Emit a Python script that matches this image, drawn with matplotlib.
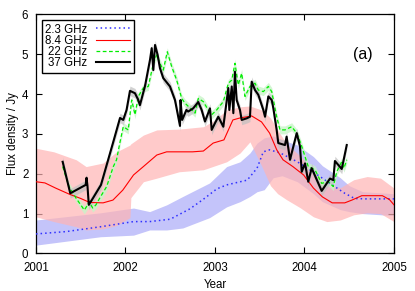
import matplotlib
matplotlib.use("Agg")
import matplotlib.pyplot as plt
import numpy as np

plt.rcParams['font.family'] = ['Liberation Sans', 'DejaVu Sans']

# ---- data -------------------------------------------------------------
# 2.3 GHz
t23 = [2001.00, 2001.34, 2001.72, 2002.09, 2002.27, 2002.50, 2002.72, 2002.87, 2003.02, 2003.13,
       2003.36, 2003.47, 2003.54, 2003.61, 2003.73, 2003.92, 2004.12, 2004.31, 2004.45, 2004.56,
       2004.68, 2005.00]
f23 = [0.49, 0.55, 0.67, 0.80, 0.80, 0.86, 1.12, 1.36, 1.62, 1.72,
       1.84, 2.14, 2.55, 2.60, 2.52, 2.30, 2.01, 1.72, 1.51, 1.38,
       1.37, 1.37]
tb23 = [2001.00, 2001.72, 2002.09, 2002.27, 2002.46, 2002.64, 2002.94, 2003.13, 2003.28, 2003.39,
        2003.47, 2003.55, 2003.65, 2003.75, 2003.92, 2004.10, 2004.20, 2004.40, 2004.50, 2004.65, 2005.00]
lo23 = [0.21, 0.42, 0.46, 0.59, 0.59, 0.64, 0.90, 1.17, 1.30, 1.43,
        1.55, 1.60, 1.90, 1.95, 1.80, 1.50, 1.30, 1.10, 1.05, 1.00, 0.95]
hi23 = [0.84, 1.02, 1.14, 1.05, 1.22, 1.43, 1.77, 2.18, 2.30, 2.52,
        2.77, 2.90, 2.95, 2.85, 2.72, 2.43, 2.20, 1.90, 1.70, 1.55, 1.50]

# 8.4 GHz
t84 = [2001.00, 2001.10, 2001.22, 2001.37, 2001.50, 2001.60, 2001.75, 2001.86, 2001.97, 2002.09,
       2002.20, 2002.35, 2002.46, 2002.60, 2002.75, 2002.87, 2002.98, 2003.10, 2003.14, 2003.20,
       2003.28, 2003.41, 2003.52, 2003.61, 2003.69, 2003.76, 2003.87, 2003.99, 2004.10, 2004.20,
       2004.31, 2004.45, 2004.53, 2004.64, 2004.87, 2004.95, 2005.00]
f84 = [1.80, 1.77, 1.64, 1.49, 1.38, 1.28, 1.27, 1.34, 1.59, 1.97,
       2.18, 2.47, 2.55, 2.55, 2.55, 2.57, 2.77, 2.85, 3.05, 3.35,
       3.40, 3.45, 3.30, 3.02, 2.60, 2.35, 2.18, 1.97, 1.64, 1.42,
       1.27, 1.27, 1.34, 1.45, 1.45, 1.35, 1.22]
tb84 = [2001.00, 2001.20, 2001.45, 2001.56, 2001.75, 2001.90, 2002.05, 2002.06, 2002.20, 2002.35,
        2002.60, 2002.87, 2003.00, 2003.13, 2003.28, 2003.39, 2003.52, 2003.62, 2003.70, 2003.80,
        2003.95, 2004.10, 2004.25, 2004.40, 2004.55, 2004.70, 2004.85, 2005.00]
hi84 = [2.64, 2.55, 2.35, 2.18, 2.27, 2.55, 2.72, 2.75, 2.97, 3.10,
        3.12, 3.18, 3.35, 3.60, 3.68, 3.70, 3.60, 3.40, 3.10, 2.75,
        2.45, 2.10, 1.75, 1.65, 1.85, 1.93, 1.89, 1.64]
lo84 = [0.92, 0.80, 0.67, 0.59, 0.62, 0.70, 0.90, 1.40, 1.80, 1.89,
        2.05, 2.10, 2.20, 2.30, 2.52, 2.80, 2.20, 1.70, 1.50, 1.35,
        1.15, 0.92, 0.80, 0.84, 0.97, 1.02, 1.00, 0.80]

# 22 GHz
t22 = [2001.298, 2001.369, 2001.447, 2001.540, 2001.578, 2001.592, 2001.634, 2001.670, 2001.715, 2001.790,
       2001.864, 2001.900, 2001.939, 2001.975, 2002.031, 2002.069, 2002.106, 2002.143, 2002.199, 2002.255,
       2002.311, 2002.349, 2002.385, 2002.422, 2002.467, 2002.516, 2002.572, 2002.628, 2002.665, 2002.721,
       2002.777, 2002.813, 2002.869, 2002.925, 2002.963, 2003.019, 2003.093, 2003.149, 2003.187, 2003.223,
       2003.260, 2003.298, 2003.335, 2003.391, 2003.447, 2003.484, 2003.540, 2003.596, 2003.634, 2003.689,
       2003.726, 2003.782, 2003.857, 2003.913, 2003.960, 2004.042, 2004.117, 2004.192, 2004.266, 2004.322,
       2004.360, 2004.416, 2004.441, 2004.472]
f22 = [2.18, 1.68, 1.39, 1.09, 1.22, 1.30, 1.14, 1.22, 1.40, 1.68,
       2.18, 2.35, 2.80, 3.18, 3.10, 3.85, 3.48, 3.94, 4.15, 4.19,
       4.77, 4.98, 4.77, 4.60, 5.06, 4.69, 4.35, 3.89, 3.77, 3.65,
       3.52, 3.89, 3.81, 3.60, 3.48, 3.60, 3.81, 4.27, 4.35, 4.77,
       4.23, 4.52, 3.94, 4.19, 4.27, 4.10, 4.06, 4.19, 4.06, 3.43,
       3.10, 3.10, 3.18, 3.02, 2.75, 2.18, 2.10, 1.76, 1.80, 1.68,
       2.05, 2.30, 2.14, 2.35]

# 37 GHz
t37 = [2001.298, 2001.383, 2001.555, 2001.565, 2001.575, 2001.590, 2001.640, 2001.726, 2001.800, 2001.870,
       2001.939, 2001.975, 2002.012, 2002.050, 2002.106, 2002.143, 2002.161, 2002.218, 2002.274, 2002.293,
       2002.311, 2002.330, 2002.359, 2002.385, 2002.422, 2002.497, 2002.553, 2002.609, 2002.615, 2002.633,
       2002.681, 2002.700, 2002.756, 2002.813, 2002.851, 2002.888, 2002.944, 2002.963, 2003.000, 2003.037,
       2003.093, 2003.149, 2003.160, 2003.187, 2003.205, 2003.223, 2003.242, 2003.279, 2003.298, 2003.354,
       2003.391, 2003.410, 2003.447, 2003.484, 2003.540, 2003.559, 2003.596, 2003.634, 2003.652, 2003.689,
       2003.707, 2003.782, 2003.800, 2003.838, 2003.913, 2003.950, 2003.969, 2004.006, 2004.042, 2004.080,
       2004.192, 2004.285, 2004.322, 2004.340, 2004.416, 2004.472]
f37 = [2.30, 1.51, 1.72, 1.90, 1.70, 1.22, 1.40, 1.72, 2.30, 2.85,
       3.40, 3.35, 3.60, 4.08, 4.02, 3.85, 3.72, 4.20, 4.86, 5.15,
       4.60, 5.23, 4.98, 4.65, 4.40, 4.19, 3.85, 3.20, 3.85, 3.35,
       3.60, 3.56, 3.64, 3.80, 3.60, 3.31, 3.64, 3.10, 3.27, 3.43,
       3.18, 4.15, 3.60, 4.19, 3.52, 4.56, 3.85, 3.60, 3.35, 3.39,
       3.43, 4.31, 4.10, 3.98, 3.60, 3.43, 3.94, 3.85, 3.64, 3.10,
       2.77, 2.72, 2.93, 2.35, 3.02, 2.68, 2.05, 2.26, 1.80, 2.14,
       1.57, 1.88, 1.84, 2.32, 2.12, 2.72]

labels = ["2.3 GHz", "8.4 GHz", "22 GHz", "37 GHz"]
xticks = [2001, 2002, 2003, 2004, 2005]
yticks = [0, 1, 2, 3, 4, 5, 6]

# ---- figure -----------------------------------------------------------
fig = plt.figure(figsize=(4.15, 2.91), dpi=100)
ax = fig.add_axes([0.0867, 0.1289, 0.8627, 0.8220])

ax.fill_between(tb23, lo23, hi23, color='#c4c4fa', lw=0, zorder=1)
ax.fill_between(tb84, lo84, hi84, color='#ffb4b4', alpha=0.7, lw=0, zorder=2)

f22a = np.array(f22)
f37a = np.array(f37)
ax.fill_between(t22, f22a - 0.1, f22a + 0.1, color='#c8f4c8', alpha=0.8, lw=0, zorder=3)
ax.fill_between(t37, f37a - 0.12, f37a + 0.12, color='#c0c0c0', alpha=0.7, lw=0, zorder=4)

ax.plot(t23, f23, color='#3030ff', lw=1.1, ls=(0, (1, 2)), label=labels[0], zorder=5)
ax.plot(t84, f84, color='#ff0000', lw=0.8, label=labels[1], zorder=6)
ax.plot(t22, f22, color='#00ee00', lw=0.9, ls=(0, (3, 2)), label=labels[2], zorder=7)
ax.plot(t37, f37, color='black', lw=1.5, label=labels[3], zorder=8)

ax.set_xlim(2001, 2005)
ax.set_ylim(0, 6)
ax.set_xticks(xticks)
ax.set_xticklabels([str(x) for x in xticks])
ax.set_yticks(yticks)
ax.tick_params(direction='in', length=4, width=0.8, top=True, right=True,
               labelsize=8.3)
ax.tick_params(axis='x', pad=6)
ax.tick_params(axis='y', pad=5.5)
for s in ax.spines.values():
    s.set_linewidth(0.9)

ax.set_xlabel("Year", fontsize=8.3, labelpad=4)
ax.set_ylabel("Flux density / Jy", fontsize=8.3, labelpad=2)

ax.text(0.94, 0.83, "(a)", transform=ax.transAxes, fontsize=11.5,
        ha='right', va='center')

leg = ax.legend(loc='upper left', markerfirst=False, fontsize=8.3,
                frameon=True, fancybox=False, framealpha=1, edgecolor='black',
                handlelength=3.0, handletextpad=0.7, labelspacing=-0.06,
                borderpad=0.3, borderaxespad=0.5)
leg.get_frame().set_linewidth(1.0)
leg.set_zorder(20)

fig.savefig("out.png", dpi=100)
